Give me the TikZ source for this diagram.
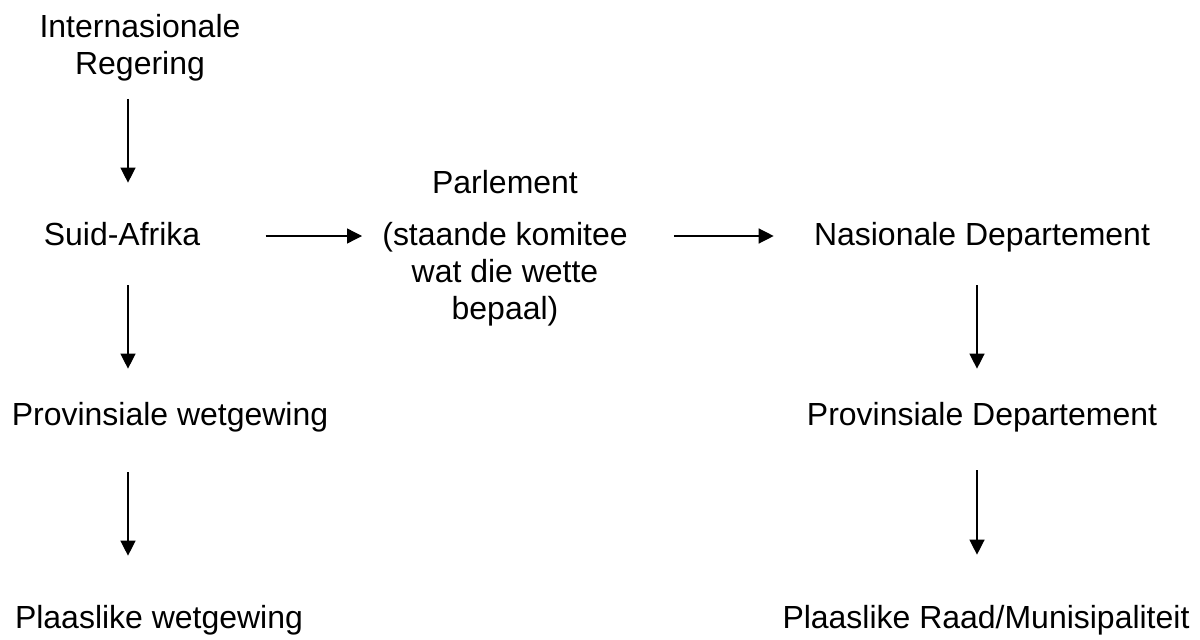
\documentclass[tikz,border=0pt]{standalone}
\usepackage{fontspec}
\setmainfont{Liberation Sans}
\usepackage{tikz}
\usetikzlibrary{arrows.meta,positioning}
\tikzset
{
    lbl/.style = {inner sep=0pt, align=center, font=\fontsize{18.2}{21}\selectfont},
    one/.style = {lbl, text height=0.48cm, text depth=0.14cm, anchor=base},
    arrow/.style={line width=0.75pt, -{Triangle[length=0.3cm, width=0.3cm]}}
}
\begin{document}
\begin{tikzpicture}[x=0.02cm, y=-0.02cm]
	\useasboundingbox (0,0) rectangle (1200,639);
	\node (intl) [lbl, anchor=base] at (140,74) {Internasionale\\Regering};
	\node (sa) [one] at (122,245) {Suid-Afrika};
	\node (parl) [lbl, anchor=base] at (505,319) {Parlement\\[8.5pt](staande komitee\\wat die wette\\bepaal)};
	\node (nas) [one] at (982,245) {Nasionale Departement};
	\node (provW) [one] at (170,425) {Provinsiale wetgewing};
	\node (provD) [one] at (982,425) {Provinsiale Departement};
	\node (plaasW) [one] at (159,628) {Plaaslike wetgewing};
	\node (plaasR) [one] at (986,628) {Plaaslike Raad/Munisipaliteit};

	\coordinate (lcol) at (128,0);
	\coordinate (rcol) at (977,0);
	\coordinate (mrow) at (0,236);

	\draw [arrow, shorten <=0.36cm, shorten >=0.76cm] (intl.south -| lcol) -- (sa.north -| lcol);
	\draw [arrow, shorten <=0.66cm, shorten >=0.64cm] (sa.south -| lcol) -- (provW.north -| lcol);
	\draw [arrow, shorten <=0.8cm, shorten >=0.96cm] (provW.south -| lcol) -- (plaasW.north -| lcol);
	\draw [arrow, shorten <=1.3cm, shorten >=0.4cm] (sa.east |- mrow) -- (parl.west |- mrow);
	\draw [arrow, shorten <=0.92cm, shorten >=0.8cm] (parl.east |- mrow) -- (nas.west |- mrow);
	\draw [arrow, shorten <=0.66cm, shorten >=0.64cm] (nas.south -| rcol) -- (provD.north -| rcol);
	\draw [arrow, shorten <=0.76cm, shorten >=0.98cm] (provD.south -| rcol) -- (plaasR.north -| rcol);
\end{tikzpicture}
\end{document}
